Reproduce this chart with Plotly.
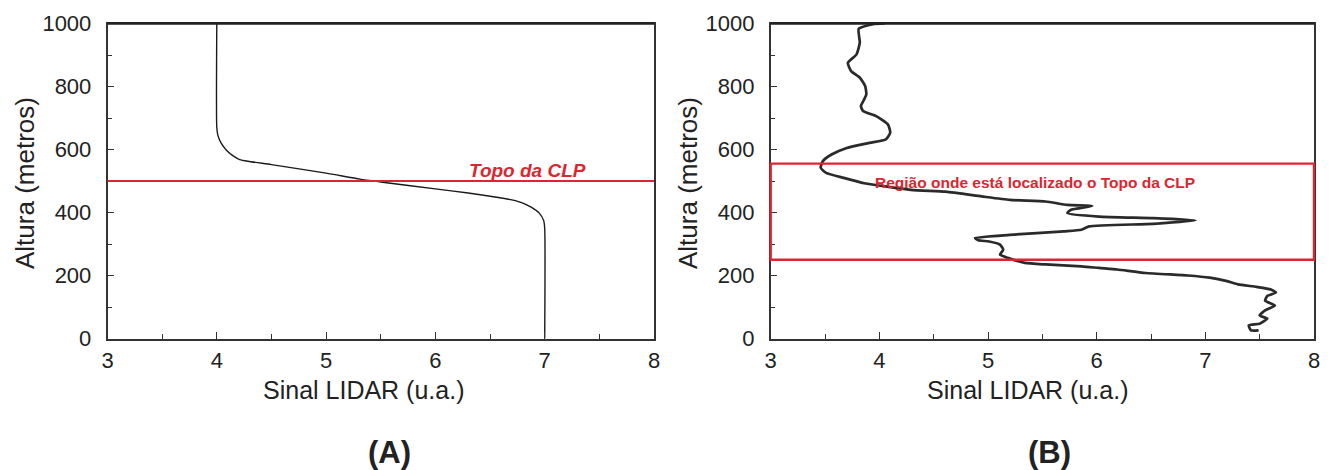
import plotly.graph_objects as go

# ---- data (A): idealised LIDAR profile ----
sinal_a = [4.0, 4.0, 4.01, 4.04, 4.09, 4.15, 4.21, 4.3, 4.5, 5.0, 5.31, 5.5, 6.0, 6.3, 6.59,
           6.7, 6.8, 6.88, 6.95, 6.99, 7.0, 7.0]
altura_a = [1000, 670, 645, 620, 597, 580, 568, 562, 552, 525, 506, 497, 475, 462, 447,
            440, 430, 416, 398, 375, 350, 0]
topo_clp_a = 500

# ---- data (B): measured LIDAR profile ----
sinal_b = [4.05, 3.94, 3.81, 3.82, 3.79, 3.71, 3.74, 3.82, 3.87, 3.88, 3.86, 3.83,
           3.85, 3.97, 4.08, 4.10, 4.06, 3.91, 3.70, 3.56, 3.48, 3.46, 3.51, 3.67,
           3.86, 4.29, 4.61, 4.94, 5.20, 5.53, 5.73, 5.96, 5.76, 5.73, 6.02, 6.52,
           6.91, 6.52, 5.93, 5.86, 5.70, 5.20, 4.88, 4.91, 5.01, 5.11, 5.14, 5.11,
           5.18, 5.34, 5.53, 5.86, 6.02, 6.19, 6.45, 6.84, 7.04, 7.20, 7.30, 7.47,
           7.60, 7.65, 7.57, 7.55, 7.64, 7.55, 7.50, 7.57, 7.50, 7.40, 7.42, 7.49]
altura_b = [1000, 998, 983, 939, 902, 875, 849, 828, 801, 775, 759, 738,
            722, 706, 679, 653, 632, 621, 605, 584, 563, 542, 526, 510,
            493, 472, 466, 451, 440, 435, 424, 421, 408, 398, 387, 382,
            375, 364, 356, 345, 340, 329, 319, 312, 308, 298, 282, 266,
            256, 240, 235, 229, 224, 219, 208, 200, 193, 182, 172, 164,
            156, 146, 135, 120, 105, 89, 73, 63, 47, 42, 26, 26]
regiao_b = [250, 555]

x_ticks = [3, 4, 5, 6, 7, 8]
y_ticks = [0, 200, 400, 600, 800, 1000]

RED = "#dc2530"
FONT = "Liberation Sans, Arial, sans-serif"
TXT = "#222222"

fig = go.Figure()
fig.add_trace(go.Scatter(x=sinal_a, y=altura_a, mode="lines", line=dict(color="#1a1a1a", width=1.4, shape="spline", smoothing=0.6),
                         xaxis="x", yaxis="y", showlegend=False, hoverinfo="skip"))
fig.add_trace(go.Scatter(x=sinal_b, y=altura_b, mode="lines", line=dict(color="#2a2a2a", width=2.7, shape="spline", smoothing=0.5),
                         xaxis="x2", yaxis="y2", showlegend=False, hoverinfo="skip"))

def xax(domain, anchor):
    return dict(domain=domain, anchor=anchor, range=[3, 8], tickvals=x_ticks, showgrid=False, zeroline=False,
                showline=True, mirror=True, linecolor="#333", linewidth=1.5, automargin=False,
                ticks="inside", ticklen=7, tickwidth=1.2, tickcolor="#333",
                minor=dict(ticks="inside", dtick=0.5, ticklen=5, tickwidth=1.2, tickcolor="#333", showgrid=False),
                tickfont=dict(family=FONT, size=22, color=TXT), ticklabelstandoff=1)

def yax(domain, anchor):
    return dict(domain=domain, anchor=anchor, range=[0, 1000], tickvals=y_ticks, showgrid=False, zeroline=False,
                showline=True, mirror=True, linecolor="#333", linewidth=1.5, automargin=False,
                ticks="inside", ticklen=7, tickwidth=1.2, tickcolor="#333",
                minor=dict(ticks="inside", dtick=100, ticklen=5, tickwidth=1.2, tickcolor="#333", showgrid=False),
                tickfont=dict(family=FONT, size=22, color=TXT), ticklabelstandoff=10)

ydom = [1 - 338.5 / 470, 1 - 23.5 / 470]
fig.update_layout(
    width=1331, height=470, margin=dict(l=0, r=0, t=0, b=0, autoexpand=False),
    paper_bgcolor="white", plot_bgcolor="white",
    xaxis=xax([107.5 / 1331, 654 / 1331], "y"),
    yaxis=yax(ydom, "x"),
    xaxis2=xax([770.7 / 1331, 1314 / 1331], "y2"),
    yaxis2=yax(ydom, "x2"),
)

# thick top frame lines
for xr, yr in (("x domain", "y domain"), ("x2 domain", "y2 domain")):
    fig.add_shape(type="line", xref=xr, yref=yr, x0=0, x1=1, y0=1, y1=1, line=dict(color="#222", width=2.5))

# (A) PBL top line
fig.add_shape(type="line", xref="x domain", yref="y", x0=0, x1=1, y0=topo_clp_a, y1=topo_clp_a,
              line=dict(color=RED, width=2.2))
fig.add_annotation(xref="x", yref="y", x=6.84, y=topo_clp_a, yshift=11, text="<b><i>Topo da CLP</i></b>",
                   xanchor="center", yanchor="middle",
                   showarrow=False, font=dict(family=FONT, size=19, color=RED))

# (B) region box
fig.add_shape(type="rect", xref="x2 domain", yref="y2", x0=0, x1=1, y0=regiao_b[0], y1=regiao_b[1],
              line=dict(color=RED, width=2.4))
fig.add_annotation(xref="x2", yref="y2", x=5.43, y=regiao_b[1], yshift=-19,
                   xanchor="center", yanchor="middle",
                   text="<b>Região onde está localizado o Topo da CLP</b>",
                   showarrow=False, font=dict(family=FONT, size=15.5, color=RED))

# axis titles and panel labels
for cx in (363, 1027):
    fig.add_annotation(xref="paper", yref="paper", x=cx / 1331, y=1 - 390 / 470, text="Sinal LIDAR (u.a.)",
                       xanchor="center", yanchor="middle",
                       showarrow=False, font=dict(family=FONT, size=25, color=TXT))
for cx in (25, 688):
    fig.add_annotation(xref="paper", yref="paper", x=cx / 1331, y=1 - 183 / 470, text="Altura (metros)",
                       xanchor="center", yanchor="middle",
                       textangle=-90, showarrow=False, font=dict(family=FONT, size=26, color=TXT))
for cx, lab in ((389, "(A)"), (1049, "(B)")):
    fig.add_annotation(xref="paper", yref="paper", x=cx / 1331, y=1 - 452 / 470, text="<b>" + lab + "</b>",
                       xanchor="center", yanchor="middle",
                       showarrow=False, font=dict(family=FONT, size=31, color=TXT))

fig.write_html("out.html")
